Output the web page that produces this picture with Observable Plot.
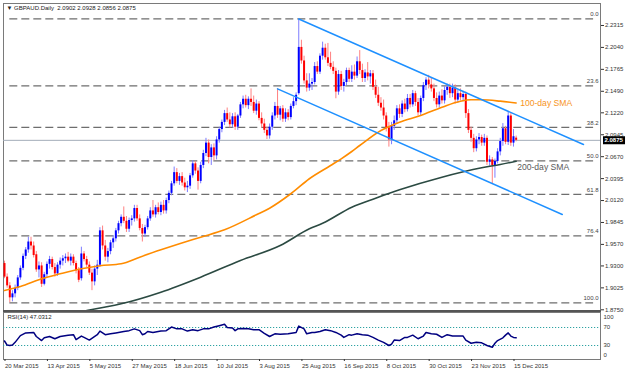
<!DOCTYPE html>
<html><head><meta charset="utf-8">
<script src="https://cdn.jsdelivr.net/npm/d3@7"></script>
<script src="https://cdn.jsdelivr.net/npm/@observablehq/plot@0.6"></script>
<style>
body{margin:0;background:#fff;}
#wrap{position:relative;width:628px;height:375px;overflow:hidden;background:#fff;}
#wrap svg{position:absolute;left:0;overflow:visible;}
</style></head><body><div id="wrap"></div>
<script>
// ---------- data ----------
const symbolTitle = "▼ GBPAUD.Daily  2.0902 2.0928 2.0856 2.0875";
const dateLabels = ["20 Mar 2015","13 Apr 2015","5 May 2015","27 May 2015","18 Jun 2015","10 Jul 2015","3 Aug 2015","25 Aug 2015","16 Sep 2015","8 Oct 2015","30 Oct 2015","23 Nov 2015","15 Dec 2015"];
const dateLabelBars = [0,16,32,48,64,80,96,112,128,144,160,176,192];
const priceTicks = [2.2315,2.2040,2.1765,2.1490,2.1220,2.0945,2.0670,2.0395,2.0120,1.9845,1.9570,1.9300,1.9025,1.8750];
const rsiTicks = [100,70,30,0];
const rsiLevels = [70,30];
const rsiTitle = "RSI(14) 47.0312";

const open = [1.933,1.916,1.905,1.890,1.895,1.902,1.915,1.927,1.942,1.950,1.960,1.955,1.944,1.925,1.930,1.907,1.919,1.932,1.938,1.928,
1.920,1.931,1.936,1.939,1.941,1.936,1.941,1.933,1.924,1.914,1.945,1.938,1.931,1.921,1.910,1.926,1.931,1.974,1.955,1.941,
1.948,1.959,1.964,1.974,1.983,1.991,1.986,1.976,1.987,1.989,2.002,1.989,1.977,1.970,1.978,1.989,1.999,1.994,2.003,1.997,
2.006,1.999,2.012,2.021,2.033,2.047,2.036,2.042,2.034,2.028,2.030,2.043,2.058,2.049,2.036,2.056,2.071,2.084,2.066,2.078,
2.068,2.088,2.101,2.110,2.121,2.113,2.107,2.117,2.104,2.118,2.132,2.139,2.131,2.139,2.135,2.124,2.133,2.115,2.108,2.100,
2.093,2.104,2.118,2.130,2.119,2.127,2.114,2.122,2.116,2.130,2.136,2.146,2.204,2.187,2.162,2.153,2.158,2.160,2.180,2.173,
2.193,2.203,2.191,2.184,2.179,2.174,2.148,2.170,2.155,2.160,2.175,2.164,2.173,2.168,2.186,2.175,2.165,2.172,2.167,2.171,
2.154,2.144,2.134,2.128,2.118,2.103,2.088,2.105,2.112,2.127,2.120,2.133,2.126,2.140,2.132,2.146,2.135,2.122,2.140,2.156,
2.163,2.157,2.152,2.140,2.132,2.143,2.137,2.150,2.154,2.146,2.153,2.138,2.146,2.141,2.145,2.121,2.100,2.090,2.077,2.088,
2.091,2.084,2.090,2.060,2.063,2.056,2.061,2.073,2.086,2.102,2.085,2.118,2.084,2.0902];
const high = [1.936,1.920,1.909,1.899,1.906,1.918,1.930,1.945,1.953,1.966,1.966,1.960,1.948,1.935,1.934,1.922,1.935,1.942,1.941,1.933,
1.934,1.940,1.943,1.945,1.947,1.945,1.944,1.936,1.928,1.9535,1.948,1.942,1.935,1.926,1.930,1.937,1.978,1.980,1.962,1.952,
1.962,1.968,1.977,1.986,1.994,2.004,1.992,1.990,1.993,2.006,2.006,1.994,1.982,1.981,1.992,2.003,2.012,2.006,2.009,2.010,
2.012,2.015,2.024,2.036,2.054,2.052,2.046,2.047,2.040,2.036,2.046,2.062,2.061,2.053,2.060,2.075,2.090,2.088,2.082,2.083,
2.092,2.104,2.113,2.125,2.128,2.122,2.121,2.122,2.120,2.135,2.143,2.144,2.142,2.152,2.143,2.138,2.136,2.122,2.114,2.104,
2.108,2.122,2.135,2.152,2.130,2.131,2.127,2.126,2.133,2.141,2.147,2.2397,2.213,2.193,2.171,2.171,2.165,2.185,2.186,2.196,
2.2106,2.208,2.209,2.198,2.186,2.178,2.175,2.174,2.164,2.178,2.178,2.181,2.182,2.192,2.200,2.183,2.176,2.185,2.175,2.175,
2.163,2.154,2.141,2.138,2.122,2.110,2.110,2.118,2.131,2.132,2.137,2.139,2.145,2.145,2.150,2.149,2.140,2.143,2.160,2.166,
2.169,2.166,2.158,2.147,2.148,2.151,2.155,2.158,2.158,2.158,2.157,2.150,2.152,2.149,2.148,2.126,2.104,2.095,2.092,2.096,
2.094,2.095,2.093,2.068,2.066,2.064,2.077,2.090,2.1085,2.105,2.1228,2.121,2.101,2.0928];
const low = [1.914,1.902,1.8838,1.885,1.890,1.899,1.912,1.924,1.938,1.946,1.950,1.940,1.922,1.915,1.903,1.905,1.915,1.926,1.925,1.916,
1.917,1.926,1.930,1.933,1.934,1.930,1.930,1.920,1.909,1.911,1.935,1.928,1.918,1.899,1.905,1.918,1.928,1.950,1.936,1.934,
1.944,1.952,1.960,1.970,1.979,1.983,1.972,1.972,1.980,1.985,1.986,1.974,1.960,1.966,1.975,1.986,1.991,1.990,1.994,1.993,
1.995,1.995,2.008,2.018,2.030,2.033,2.031,2.030,2.024,2.022,2.026,2.040,2.045,2.025,2.033,2.052,2.067,2.058,2.056,2.062,
2.063,2.084,2.097,2.106,2.110,2.103,2.103,2.100,2.100,2.115,2.127,2.128,2.126,2.130,2.121,2.119,2.112,2.103,2.096,2.0885,
2.089,2.100,2.113,2.115,2.112,2.110,2.110,2.112,2.113,2.127,2.131,2.144,2.183,2.158,2.148,2.149,2.150,2.157,2.170,2.170,
2.188,2.188,2.180,2.176,2.170,2.1396,2.144,2.150,2.148,2.156,2.160,2.160,2.163,2.165,2.170,2.160,2.160,2.162,2.158,2.150,
2.140,2.130,2.124,2.113,2.098,2.079,2.082,2.100,2.108,2.115,2.116,2.122,2.123,2.128,2.129,2.130,2.118,2.118,2.136,2.150,
2.152,2.148,2.136,2.128,2.128,2.133,2.133,2.144,2.140,2.141,2.133,2.134,2.137,2.136,2.115,2.096,2.085,2.072,2.073,2.082,
2.080,2.080,2.056,2.055,2.033,2.040,2.058,2.068,2.080,2.082,2.081,2.080,2.079,2.0856];
const close = [1.916,1.905,1.890,1.895,1.902,1.915,1.927,1.942,1.950,1.960,1.955,1.943,1.925,1.930,1.907,1.919,1.932,1.938,1.928,1.920,
1.931,1.936,1.939,1.941,1.936,1.941,1.933,1.924,1.912,1.945,1.938,1.931,1.921,1.910,1.926,1.931,1.974,1.955,1.941,1.948,
1.959,1.964,1.974,1.983,1.991,1.986,1.976,1.987,1.989,2.002,1.989,1.977,1.970,1.978,1.989,1.999,1.994,2.003,1.997,2.006,
1.999,2.012,2.021,2.033,2.047,2.036,2.042,2.034,2.028,2.030,2.043,2.058,2.049,2.036,2.056,2.071,2.084,2.066,2.078,2.068,
2.088,2.101,2.110,2.121,2.113,2.107,2.117,2.104,2.118,2.132,2.139,2.131,2.139,2.135,2.124,2.133,2.115,2.108,2.100,2.093,
2.104,2.118,2.130,2.119,2.127,2.114,2.122,2.116,2.130,2.136,2.144,2.204,2.187,2.162,2.153,2.158,2.160,2.180,2.173,2.193,
2.203,2.191,2.184,2.179,2.174,2.148,2.170,2.155,2.160,2.175,2.164,2.173,2.168,2.186,2.175,2.165,2.172,2.167,2.171,2.154,
2.144,2.134,2.128,2.118,2.103,2.088,2.105,2.112,2.127,2.120,2.133,2.126,2.140,2.132,2.146,2.135,2.122,2.140,2.156,2.163,
2.157,2.152,2.140,2.132,2.143,2.137,2.150,2.154,2.146,2.153,2.138,2.146,2.141,2.145,2.121,2.100,2.090,2.077,2.088,2.091,
2.084,2.090,2.060,2.063,2.056,2.061,2.073,2.086,2.102,2.085,2.118,2.084,2.092,2.0875];

// moving averages: [bar, value]
const sma100 = [[0,1.8992],[6,1.9042],[14,1.9139],[21,1.9201],[29,1.9264],[36,1.9302],[44,1.9327],[51,1.9410],[59,1.9502],[66,1.9578],[74,1.9660],[83,1.9753],[95,1.9941],[100,2.0024],[108,2.0205],[115,2.0393],[123,2.0559],[127,2.0643],[131,2.0735],[134,2.0810],[142,2.0998],[149,2.1102],[157,2.1186],[165,2.1290],[172,2.1366],[176,2.1383],[180,2.1383],[187,2.1366],[193,2.1343]];
const sma200 = [[31,1.8741],[44,1.8825],[59,1.8971],[74,1.9159],[89,1.9368],[104,1.9556],[115,1.9766],[120,1.9835],[131,2.0037],[140,2.0150],[149,2.0255],[165,2.0413],[180,2.0531],[187,2.0572],[193,2.0613]];
// channel trendlines: [bar, price]
const channelUpper = [[111,2.2397],[218.4,2.0823]];
const channelLower = [[103,2.1520],[210.4,1.9945]];
// fibonacci retracement
const fibHigh = 2.2397, fibLow = 1.8838, fibStartBar = 2;
const fibRatios = [0,23.6,38.2,50,61.8,76.4,100];
const fibNames = ["0.0","23.6","38.2","50.0","61.8","76.4","100.0"];
// RSI(14): [bar, value]
const rsi = [[0,40],[1,31],[2,30],[3,31],[4,37],[6,52],[8,58],[11,59],[12,50],[14,41],[15,47],[17,50],[19,45],[21,50],[24,53],[26,54],[27,43],[29,51],[30,48],[32,42],[35,54],[36,62],[38,54],[40,56],[42,58],[45,61],[47,63],[49,67],[51,63],[52,54],[53,56],[54,61],[56,59],[59,62],[61,63],[63,71],[65,67],[67,67],[69,62],[71,65],[73,63],[75,67],[77,67],[79,71],[81,74],[83,77],[84,70],[86,69],[87,63],[88,67],[90,68],[92,67],[94,65],[96,65],[98,57],[100,50],[102,56],[104,55],[107,56],[110,59],[111,73],[113,67],[114,56],[116,59],[117,59],[119,61],[121,65],[123,63],[125,59],[127,53],[128,48],[130,54],[131,53],[133,56],[135,54],[137,53],[139,48],[141,42],[143,37],[145,30],[146,33],[147,42],[149,41],[151,48],[152,48],[154,53],[156,45],[158,51],[159,59],[161,56],[163,55],[165,48],[167,54],[169,51],[171,51],[173,51],[174,42],[176,35],[178,37],[180,36],[182,30],[184,26],[185,35],[186,41],[188,47],[189,53],[190,58],[191,51],[192,48],[193,47.03]];

// ---------- build ----------
const FONT = "'Liberation Sans', Arial, sans-serif";
const candles = close.map((c, i) => ({i, o: open[i], h: high[i], l: low[i], c}));
const up = candles.filter(d => d.c >= d.o), down = candles.filter(d => d.c < d.o);
const last = candles[candles.length - 1];
const fib = fibRatios.map((r, k) => ({p: fibHigh - r / 100 * (fibHigh - fibLow), name: fibNames[k]}));
const X_DOMAIN = [-0.377, 224.82];
const fibEndBar = X_DOMAIN[1] - 2.6;

const main = Plot.plot({
  width: 628, height: 311,
  marginLeft: 3, marginRight: 28, marginTop: 3, marginBottom: 1,
  x: {domain: X_DOMAIN, axis: null},
  y: {domain: [1.87412, 2.25907], axis: null},
  style: {fontFamily: FONT, fontSize: "6px", background: "white", overflow: "visible"},
  marks: [
    Plot.frame({stroke: "#7a7a7a"}),
    Plot.ruleY(fib, {y: "p", x1: fibStartBar, x2: fibEndBar, stroke: "#6e6e6e", strokeWidth: 1.2, strokeDasharray: "8,4"}),
    Plot.text(fib, {y: "p", text: "name", frameAnchor: "right", textAnchor: "end", dx: -2, dy: -4.5, fill: "#444", fontSize: 6}),
    Plot.ruleY([last.c], {stroke: "#a3acb8", strokeWidth: 1}),
    Plot.ruleX(up, {x: "i", y1: "l", y2: "h", stroke: "#7d7dff", strokeWidth: 1}),
    Plot.ruleX(down, {x: "i", y1: "l", y2: "h", stroke: "#ff8080", strokeWidth: 1}),
    Plot.ruleX(up, {x: "i", y1: "o", y2: "c", stroke: "#0000ff", strokeWidth: 2}),
    Plot.ruleX(down, {x: "i", y1: "o", y2: "c", stroke: "#ff0000", strokeWidth: 2}),
    Plot.line(sma200, {x: d => d[0], y: d => d[1], stroke: "#2b4a42", strokeWidth: 1.6, curve: "monotone-x"}),
    Plot.line(sma100, {x: d => d[0], y: d => d[1], stroke: "#ff8c00", strokeWidth: 1.6, curve: "monotone-x"}),
    Plot.line(channelUpper, {x: d => d[0], y: d => d[1], stroke: "#1e90ff", strokeWidth: 1.5}),
    Plot.line(channelLower, {x: d => d[0], y: d => d[1], stroke: "#1e90ff", strokeWidth: 1.5}),
    Plot.text([sma100[sma100.length - 1]], {x: d => d[0], y: d => d[1], text: () => "100-day SMA", textAnchor: "start", dx: 4, dy: 0.5, fill: "#f7941d", fontSize: 8.6}),
    Plot.text([sma200[sma200.length - 1]], {x: d => d[0], y: d => d[1], text: () => "200-day SMA", textAnchor: "start", dx: 1, dy: 6.5, fill: "#5a5a5a", fontSize: 8.6}),
    Plot.axisY({ticks: priceTicks, anchor: "right", tickSize: 3, tickPadding: 1.5, tickFormat: d => d.toFixed(4), fontSize: 6, color: "#333", label: null}),
    Plot.text([last.c], {y: d => d, text: d => d.toFixed(4), frameAnchor: "right", textAnchor: "start", dx: 4, fill: "white", fontSize: 6, fontWeight: "bold"}),
    Plot.text([symbolTitle], {frameAnchor: "top-left", dx: 3, dy: 2.5, fill: "#222", fontSize: 6})
  ]
});

const rsiChart = Plot.plot({
  width: 628, height: 64,
  marginLeft: 3, marginRight: 28, marginTop: 1, marginBottom: 16,
  x: {domain: X_DOMAIN, axis: null},
  y: {domain: [-1.1, 103.3], axis: null},
  style: {fontFamily: FONT, fontSize: "6px", background: "white", overflow: "visible"},
  marks: [
    Plot.frame({stroke: "#7a7a7a"}),
    Plot.ruleY(rsiLevels, {stroke: "#2fa3a3", strokeWidth: 1.2, strokeDasharray: "1.2,1.8"}),
    Plot.line(rsi, {x: d => d[0], y: d => d[1], stroke: "#000080", strokeWidth: 1.5}),
    Plot.axisX({ticks: dateLabelBars, anchor: "bottom", tickSize: 2, tickPadding: 2, textAnchor: "start", dx: 0.5, fontSize: 6, color: "#333", label: null,
      tickFormat: d => dateLabels[dateLabelBars.indexOf(d)]}),
    Plot.text(rsiTicks.filter(v => v === 70 || v === 30), {y: d => d, text: d => String(d), frameAnchor: "right", textAnchor: "start", dx: 3, fill: "#333", fontSize: 6}),
    Plot.text(rsiTicks.filter(v => v === 100), {y: d => d, text: d => String(d), frameAnchor: "right", textAnchor: "start", dx: 3, dy: 3.5, fill: "#333", fontSize: 6}),
    Plot.text(rsiTicks.filter(v => v === 0), {y: d => d, text: d => String(d), frameAnchor: "right", textAnchor: "start", dx: 3, dy: -4, fill: "#333", fontSize: 6}),
    Plot.text([rsiTitle], {frameAnchor: "top-left", dx: 4, dy: 2.5, fill: "#222", fontSize: 6})
  ]
});

const wrap = document.getElementById("wrap");
main.style.top = "0px";
rsiChart.style.top = "311px";
wrap.appendChild(rsiChart);
wrap.appendChild(main);
const sep = document.createElement("div");
sep.style.cssText = "position:absolute;left:3px;top:310px;width:598px;height:2px;background:#555;";
wrap.appendChild(sep);

// black box behind the current price tag
const tagText = last.c.toFixed(4);
const tag = [...main.querySelectorAll("text")].find(t => t.textContent === tagText);
if (tag) {
  const b = tag.getBBox();
  const r = document.createElementNS("http://www.w3.org/2000/svg", "rect");
  r.setAttribute("x", b.x - 1.5); r.setAttribute("y", b.y - 1);
  r.setAttribute("width", b.width + 3); r.setAttribute("height", b.height + 2);
  r.setAttribute("fill", "black");
  if (tag.getAttribute("transform")) r.setAttribute("transform", tag.getAttribute("transform"));
  tag.parentNode.insertBefore(r, tag);
}
</script></body></html>
